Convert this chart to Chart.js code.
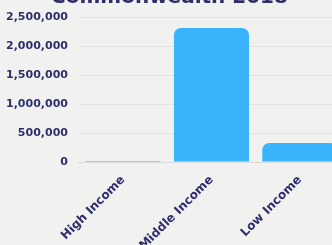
<!DOCTYPE html>
<html>
<head>
<meta charset="utf-8">
<script src="https://cdn.jsdelivr.net/npm/chart.js@4"></script>
<style>
  html, body { margin: 0; padding: 0; overflow: hidden; background: #f1f1f0; }
  #wrap { position: absolute; left: -5px; top: -18px; width: 349px; height: 274px; }
</style>
</head>
<body>
<div id="wrap"><canvas id="barChart"></canvas></div>
<script>
// data
const categories = ['High Income', 'Middle Income', 'Low Income'];
const population = [20000, 2310000, 330000];
const chartTitle = 'Commonwealth 2018';

const navy = '#2e2f6a';

const ctx = document.getElementById('barChart').getContext('2d');
const myChart = new Chart(ctx, {
  type: 'bar',
  data: {
    labels: categories,
    datasets: [{
      data: population,
      backgroundColor: '#3ab4fd',
      borderRadius: 7,
      borderSkipped: 'bottom',
      barPercentage: 0.85,
      categoryPercentage: 1
    }]
  },
  options: {
    responsive: true,
    maintainAspectRatio: false,
    animation: false,
    layout: { padding: { left: 0, right: 0, top: 0, bottom: 0 } },
    plugins: {
      legend: { display: false },
      tooltip: { enabled: false },
      title: {
        display: true,
        text: chartTitle,
        color: navy,
        font: { family: 'DejaVu Sans', size: 20, weight: 'bold' },
        padding: { top: 4, bottom: 7 }
      }
    },
    scales: {
      x: {
        grid: { display: false },
        border: { color: '#d9d9de' },
        ticks: {
          color: navy,
          maxRotation: 45,
          minRotation: 45,
          font: { family: 'DejaVu Sans', size: 12, weight: 'bold' }
        }
      },
      y: {
        min: 0,
        max: 2500000,
        grid: { color: '#e2e2e6', drawTicks: false },
        border: { display: false },
        ticks: {
          stepSize: 500000,
          padding: 11,
          color: navy,
          font: { family: 'DejaVu Sans', size: 11, weight: 'bold' },
          callback: function (value) {
            return value.toLocaleString('en-US');
          }
        }
      }
    }
  }
});
</script>
</body>
</html>
